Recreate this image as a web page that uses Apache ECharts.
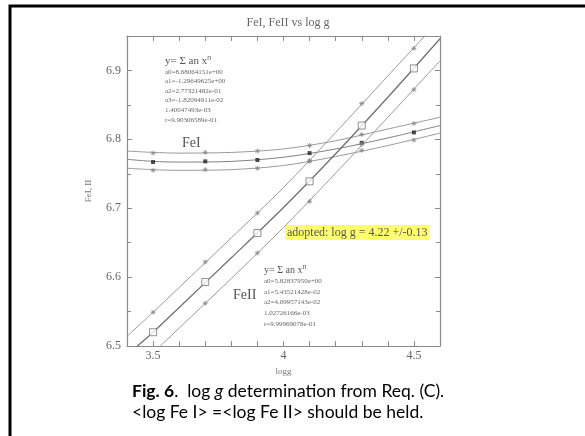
<!DOCTYPE html>
<html>
<head>
<meta charset="utf-8">
<script src="https://cdn.jsdelivr.net/npm/echarts@6/dist/echarts.min.js"></script>
<style>
  html, body { margin: 0; padding: 0; background: #fff; }
  #chart { width: 585px; height: 436px; }
</style>
</head>
<body>
<div id="chart"></div>
<script>
// measured log g points
const logg = [3.5, 3.7, 3.9, 4.1, 4.3, 4.5]
const feIMid = [6.767, 6.768, 6.770, 6.780, 6.795, 6.810]
const feIUp = [6.780, 6.781, 6.783, 6.791, 6.807, 6.823]
const feILow = [6.755, 6.756, 6.758, 6.768, 6.784, 6.799]
const feIIMid = [6.520, 6.593, 6.664, 6.739, 6.820, 6.903]
const feIIUp = [6.549, 6.622, 6.693, 6.769, 6.852, 6.932]
const feIILow = [null, 6.562, 6.635, 6.710, 6.793, 6.872]

// fitted curves
const fitX = [3.4, 3.5, 3.6, 3.8, 4.0, 4.2, 4.4, 4.6]
const fitFeIMid = [6.771, 6.768, 6.767, 6.768, 6.774, 6.786, 6.802, 6.820]
const fitFeIUp = [6.783, 6.781, 6.780, 6.781, 6.786, 6.798, 6.815, 6.832]
const fitFeILow = [6.758, 6.756, 6.755, 6.756, 6.762, 6.775, 6.791, 6.809]
const fitFeIIMid = [6.487, 6.520, 6.556, 6.628, 6.701, 6.779, 6.861, 6.946]
const fitFeIIUp = [6.514, 6.549, 6.585, 6.657, 6.730, 6.810, 6.892, 6.974]
const fitFeIILow = [6.455, 6.490, 6.526, 6.598, 6.672, 6.751, 6.832, 6.914]

const coefFeI = ['a0=8.68064151e+00', 'a1=-1.29649625e+00', 'a2=2.77321482e-01',
  'a3=-1.82094911e-02', '1.40047493e-03', 'r=9.90306589e-01']
const coefFeII = ['a0=5.82837950e+00', 'a1=5.43521428e-02', 'a2=4.09957143e-02',
  '1.02726166e-03', 'r=9.99969078e-01']

const pair = (xs, ys) => xs.map((x, i) => [x, ys[i]]).filter(p => p[1] != null)

const serif = 'Liberation Serif'
const gray = '#9a9a9a'

function fitLine(ys, color, width) {
  return {
    type: 'line', data: pair(fitX, ys), smooth: 0.3, symbol: 'none', silent: true,
    lineStyle: { color: color || gray, width: width || 1 }
  }
}
const star = 'path://M0,-1L0,1M-1,0L1,0M-0.7,-0.7L0.7,0.7M-0.7,0.7L0.7,-0.7'
function points(ys, symbol, size, style) {
  return { type: 'scatter', data: pair(logg, ys), symbol: symbol, symbolSize: size, itemStyle: style, z: 5 }
}

const axisCommon = {
  axisLine: { lineStyle: { color: '#8a8a8a', width: 1.2 } },
  axisTick: { inside: true, length: 5, lineStyle: { color: '#8a8a8a' } },
  splitLine: { show: false }
}

let chart = echarts.init(document.getElementById('chart'))
chart.setOption({
  animation: false,
  title: {
    text: 'FeI, FeII vs log g', left: 283, top: 12, textAlign: 'center',
    textStyle: { fontFamily: serif, fontSize: 12, fontWeight: 'normal', color: '#666' }
  },
  grid: { left: 127, right: 145, top: 36, bottom: 90 },
  xAxis: [
    Object.assign({
      type: 'value', min: 3.4, max: 4.6, interval: 0.1, position: 'bottom',
      name: 'logg', nameLocation: 'middle', nameGap: 18,
      nameTextStyle: { fontFamily: serif, fontSize: 9, color: '#777' },
      axisLabel: {
        fontFamily: serif, fontSize: 12, color: '#666', margin: 4,
        formatter: v => Math.abs(v * 2 - Math.round(v * 2)) < 1e-6 ? String(Math.round(v * 10) / 10) : ''
      }
    }, axisCommon),
    Object.assign({
      type: 'value', min: 3.4, max: 4.6, interval: 0.1, position: 'top', axisLabel: { show: false }
    }, axisCommon)
  ],
  yAxis: [
    Object.assign({
      type: 'value', min: 6.5, max: 6.95, interval: 0.1, position: 'left',
      name: 'FeI, II', nameLocation: 'middle', nameGap: 34, nameRotate: 90,
      nameTextStyle: { fontFamily: serif, fontSize: 9, color: '#777' },
      minorTick: { show: true, splitNumber: 2, length: 4, lineStyle: { color: '#8a8a8a' } },
      axisLabel: {
        fontFamily: serif, fontSize: 12, color: '#666', margin: 6,
        formatter: v => v > 6.92 ? '' : v.toFixed(1)
      }
    }, axisCommon),
    Object.assign({
      type: 'value', min: 6.5, max: 6.95, interval: 0.1, position: 'right',
      minorTick: { show: true, splitNumber: 2, length: 4, lineStyle: { color: '#8a8a8a' } },
      axisLabel: { show: false }
    }, axisCommon)
  ],
  series: [
    fitLine(fitFeIUp),
    fitLine(fitFeIMid, '#808080'),
    fitLine(fitFeILow),
    fitLine(fitFeIIUp),
    fitLine(fitFeIIMid, '#707070', 1.3),
    fitLine(fitFeIILow),
    points(feIUp, star, 5, { color: 'none', borderColor: '#888', borderWidth: 1 }),
    points(feILow, star, 5, { color: 'none', borderColor: '#888', borderWidth: 1 }),
    points(feIMid, 'rect', 4, { color: '#222' }),
    points(feIIUp, star, 5, { color: 'none', borderColor: '#888', borderWidth: 1 }),
    points(feIILow, star, 5, { color: 'none', borderColor: '#888', borderWidth: 1 }),
    points(feIIMid, 'rect', 7, { color: '#fff', borderColor: '#777', borderWidth: 1 })
  ],
  graphic: [
    // page frame
    { type: 'rect', shape: { x: 10, y: 6, width: 620, height: 480 },
      style: { fill: 'none', stroke: '#000', lineWidth: 3 }, silent: true },
    { type: 'text', left: 165, top: 55,
      style: { text: 'y= Σ an x{s|n}', fill: '#555', font: '11px ' + serif,
        rich: { s: { fontSize: 7, verticalAlign: 'top', padding: [0, 0, 6, 0] } } } },
    { type: 'text', left: 165, top: 67,
      style: { text: coefFeI.join('\n'), fill: '#666', font: '7px ' + serif, lineHeight: 9.6 } },
    { type: 'text', left: 182, top: 136,
      style: { text: 'FeI', fill: '#555', font: '14px ' + serif } },
    { type: 'text', left: 264, top: 264,
      style: { text: 'y= Σ an x{s|n}', fill: '#555', font: '10px ' + serif,
        rich: { s: { fontSize: 7, verticalAlign: 'top', padding: [0, 0, 6, 0] } } } },
    { type: 'text', left: 264, top: 276,
      style: { text: coefFeII.join('\n'), fill: '#666', font: '7px ' + serif, lineHeight: 10.6 } },
    { type: 'text', left: 233, top: 288,
      style: { text: 'FeII', fill: '#555', font: '14px ' + serif } },
    { type: 'text', left: 285, top: 225,
      style: { text: 'adopted: log g = 4.22 +/-0.13', fill: '#555', font: '12px ' + serif,
        backgroundColor: '#ffff70', padding: [2, 2, 1, 2] } },
    { type: 'text', left: 132, top: 381,
      style: {
        text: '{b|Fig. 6}.  log {i|g} determination from Req. (C).\n<log Fe I> =<log Fe II> should be held.',
        fill: '#000', font: '17.5px Lato', lineHeight: 21,
        rich: { b: { fontWeight: 'bold', fontSize: 17.5, fontFamily: 'Lato' },
          i: { fontStyle: 'italic', fontSize: 17.5, fontFamily: 'Lato' } }
      } }
  ]
})
</script>
</body>
</html>
